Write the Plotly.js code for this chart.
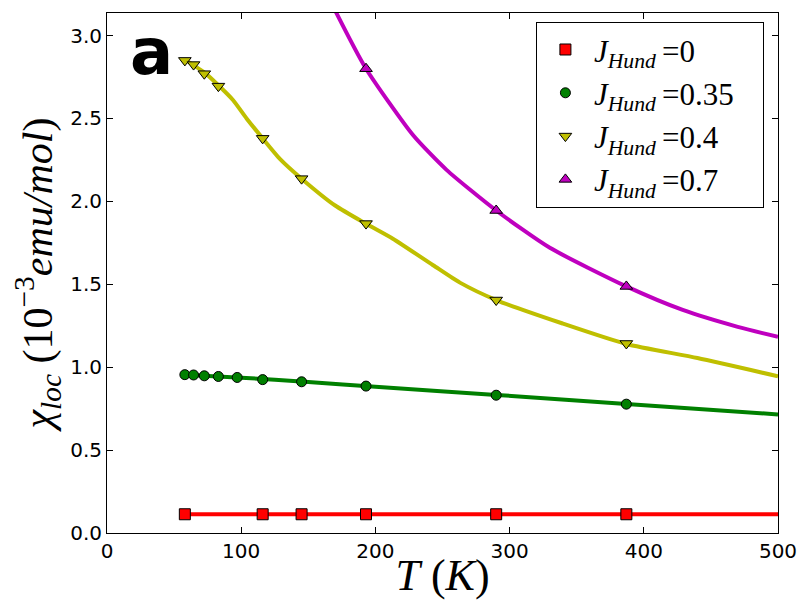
<!DOCTYPE html>
<html>
<head>
<meta charset="utf-8">
<script src="https://cdn.plot.ly/plotly-3.0.1.min.js"></script>
<style>
  html, body { margin: 0; padding: 0; background: #fff; }
  #chart { width: 800px; height: 600px; }
</style>
</head>
<body>
<div id="chart"></div>
<script>
// data points (temperature in K, chi_loc in 1e-3 emu/mol)
const tRed = [58, 116, 145, 193, 290, 387];
const chiRed = [0.113, 0.113, 0.113, 0.113, 0.113, 0.113];

const tGreen = [58, 64.5, 72.5, 83, 97, 116, 145, 193, 290, 387];
const chiGreen = [0.955, 0.953, 0.948, 0.944, 0.938, 0.925, 0.912, 0.886, 0.831, 0.777];

const tYellow = [58, 64.5, 72.5, 83, 116, 145, 193, 290, 387];
const chiYellow = [2.85, 2.825, 2.77, 2.695, 2.38, 2.137, 1.866, 1.405, 1.143];

const tMagenta = [193, 290, 387];
const chiMagenta = [2.80, 1.945, 1.487];

// fitted curves
const fitRedT = [58, 500];
const fitRedChi = [0.113, 0.113];

const fitGreenT = [58, 100, 150, 200, 290, 387, 500];
const fitGreenChi = [0.955, 0.937, 0.91, 0.882, 0.833, 0.778, 0.715];

const fitYellowT = [58, 73, 83, 94, 104, 116, 129, 145, 170, 193, 213, 243, 263, 290, 339, 387, 440, 500];
const fitYellowChi = [2.855, 2.775, 2.70, 2.61, 2.50, 2.38, 2.255, 2.137, 1.975, 1.865, 1.775, 1.615, 1.51, 1.405, 1.265, 1.14, 1.055, 0.945];

const fitMagentaT = [160, 171, 193, 228, 253, 290, 330, 387, 429, 470, 500];
const fitMagentaChi = [3.32, 3.135, 2.80, 2.40, 2.19, 1.945, 1.72, 1.487, 1.345, 1.243, 1.183];

const labels = ['0', '0.35', '0.4', '0.7'];
const colors = ['#ff0000', '#008000', '#bfbf00', '#bf00bf'];
const symbols = ['square', 'circle', 'triangle-down', 'triangle-up'];
const sizes = [11, 10, 11, 11];

function fitLine(x, y, color) {
    return {
        x: x, y: y, type: 'scatter', mode: 'lines',
        line: { color: color, width: 4, shape: 'spline', smoothing: 0.6 },
        showlegend: false, hoverinfo: 'skip'
    };
}

function points(x, y, i) {
    return {
        x: x, y: y, type: 'scatter', mode: 'markers',
        name: '<i>J</i><sub><i>Hund</i></sub>\u2009=' + labels[i] + '\u00a0\u00a0\u00a0',
        marker: { color: colors[i], symbol: symbols[i], size: sizes[i], line: { color: '#000', width: 1 } }
    };
}

var data = [
    fitLine(fitRedT, fitRedChi, colors[0]),
    fitLine(fitGreenT, fitGreenChi, colors[1]),
    fitLine(fitYellowT, fitYellowChi, colors[2]),
    fitLine(fitMagentaT, fitMagentaChi, colors[3]),
    points(tRed, chiRed, 0),
    points(tGreen, chiGreen, 1),
    points(tYellow, chiYellow, 2),
    points(tMagenta, chiMagenta, 3)
];

var axisCommon = {
    showgrid: false, zeroline: false,
    showline: true, linecolor: '#000', linewidth: 1, mirror: 'ticks',
    ticks: 'inside', ticklen: 6, tickwidth: 1, tickcolor: '#000',
    tickfont: { family: 'DejaVu Sans', size: 20, color: '#000' },
    automargin: false
};

var layout = {
    width: 800, height: 600,
    margin: { l: 107, r: 22, t: 13, b: 67 },
    paper_bgcolor: '#fff', plot_bgcolor: '#fff',
    xaxis: Object.assign({}, axisCommon, {
        range: [0, 500], dtick: 100, tick0: 0,
        title: { text: '<i>T</i> (<i>K</i>)', font: { family: 'Liberation Serif', size: 44, color: '#000' }, standoff: 0 }
    }),
    yaxis: Object.assign({}, axisCommon, {
        range: [0, 3.136], dtick: 0.5, tick0: 0, tickformat: '.1f',
        title: { text: '<i>\u03c7</i><sub><i>loc</i></sub>\u00a0(10<sup>\u22123</sup><i>emu/mol</i>)', font: { family: 'Liberation Serif', size: 42, color: '#000' }, standoff: 4 }
    }),
    legend: {
        x: 0.979, y: 0.983, xanchor: 'right', yanchor: 'top',
        bgcolor: '#fff', bordercolor: '#000', borderwidth: 1,
        font: { family: 'Liberation Serif', size: 31, color: '#000' },
        itemwidth: 47, tracegroupgap: 0
    },
    annotations: [{
        xref: 'paper', yref: 'paper', x: 0.067, y: 0.925,
        xanchor: 'center', yanchor: 'middle', showarrow: false,
        text: '<b>a</b>', font: { family: 'DejaVu Sans', size: 64, color: '#000' }
    }]
};

Plotly.newPlot('chart', data, layout, { staticPlot: true });
</script>
</body>
</html>
